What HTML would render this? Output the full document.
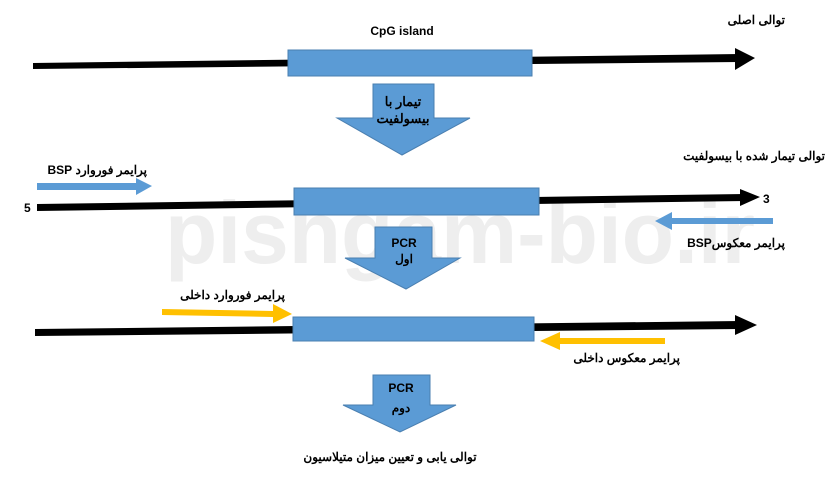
<!DOCTYPE html>
<html><head><meta charset="utf-8"><style>
body{margin:0;background:#fff}
svg{display:block}
text{font-family:"Liberation Sans","Noto Sans CJK SC",sans-serif;font-weight:bold;fill:#000}
</style></head><body>
<svg width="830" height="480" viewBox="0 0 830 480" xmlns="http://www.w3.org/2000/svg">
<text x="460" y="263" text-anchor="middle" font-size="88" style="fill:#eeeeee" textLength="590" lengthAdjust="spacingAndGlyphs">pishgam-bio.ir</text>
<!-- line 1 -->
<polygon points="33,63 740,54 740,62 33,69"/>
<polygon points="735,48 755,58 735,70"/>
<rect x="288" y="50" width="244" height="26" fill="#5b9bd5" stroke="#4a7fb0" stroke-width="1"/>
<text x="402" y="35" text-anchor="middle" font-size="12">CpG island</text>
<text x="785" y="24" text-anchor="start" font-size="12" direction="rtl">توالی اصلی</text>
<polygon points="373,84 434,84 434,118 470,118 402,155 337,118 373,118" fill="#5b9bd5" stroke="#4a7fb0"/>
<text x="403" y="106" text-anchor="middle" font-size="13" direction="rtl">تیمار با</text>
<text x="403" y="123" text-anchor="middle" font-size="13" direction="rtl">بیسولفیت</text>
<text x="825" y="160" text-anchor="start" font-size="12" direction="rtl">توالی تیمار شده با بیسولفیت</text>
<!-- line 2 -->
<text x="147" y="174" text-anchor="start" font-size="12" direction="rtl">پرایمر فوروارد BSP</text>
<polygon points="37,183 136,183 136,178 152,186 136,195 136,190 37,190" fill="#5b9bd5"/>
<polygon points="37,204 745,194 745,201 37,211"/>
<polygon points="740,189 760,197 740,206"/>
<text x="24" y="212" font-size="12">5</text>
<text x="763" y="203" font-size="12">3</text>
<rect x="294" y="188" width="245" height="27" fill="#5b9bd5" stroke="#4a7fb0"/>
<polygon points="773,218 672,218 672,212 655,221 672,230 672,224 773,224" fill="#5b9bd5"/>
<text x="785" y="247" text-anchor="start" font-size="12" direction="rtl">پرایمر معکوسBSP</text>
<polygon points="375,227 432,227 432,258 460,258 406,289 345,258 375,258" fill="#5b9bd5" stroke="#4a7fb0"/>
<text x="404" y="247" text-anchor="middle" font-size="12">PCR</text>
<text x="404" y="263" text-anchor="middle" font-size="12">اول</text>
<!-- line 3 -->
<text x="285" y="299" text-anchor="start" font-size="12" direction="rtl">پرایمر فوروارد داخلی</text>
<polygon points="162,309 273,311 273,304 292,314 273,323 273,317 162,315" fill="#ffc000"/>
<polygon points="35,329 740,321 740,329 35,336"/>
<polygon points="735,315 757,325 735,335"/>
<rect x="293" y="317" width="241" height="24" fill="#5b9bd5" stroke="#4a7fb0"/>
<polygon points="665,338 560,338 560,332 540,341 560,350 560,344 665,344" fill="#ffc000"/>
<text x="680" y="362" text-anchor="start" font-size="12" direction="rtl">پرایمر معکوس داخلی</text>
<polygon points="373,375 430,375 430,405 456,405 400,432 343,405 373,405" fill="#5b9bd5" stroke="#4a7fb0"/>
<text x="401" y="392" text-anchor="middle" font-size="12">PCR</text>
<text x="401" y="412" text-anchor="middle" font-size="12">دوم</text>
<text x="390" y="461" text-anchor="middle" font-size="12" direction="rtl">توالی یابی و تعیین میزان متیلاسیون</text>
</svg>
</body></html>
